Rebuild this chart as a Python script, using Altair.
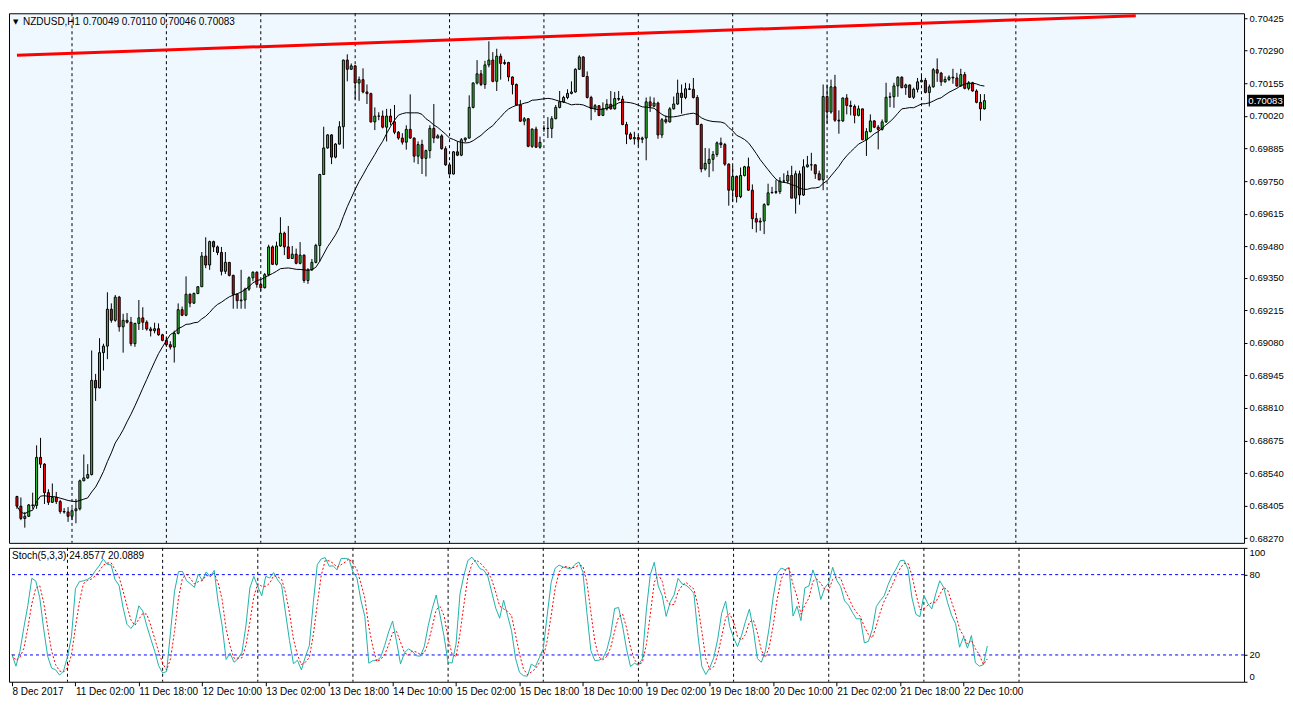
import altair as alt
import pandas as pd
import numpy as np

# ---------------- texts / labels ----------------
symbol_text = "NZDUSD,H1  0.70049 0.70110 0.70046 0.70083"
stoch_text = "Stoch(5,3,3) 24.8577 20.0889"
last_price = 0.70083
last_price_label = "0.70083"

price_ticks = [0.70425, 0.70290, 0.70155, 0.70020, 0.69885, 0.69750, 0.69615,
               0.69480, 0.69350, 0.69215, 0.69080, 0.68945, 0.68810, 0.68675,
               0.68540, 0.68405, 0.68270]
stoch_ticks = [0, 20, 80, 100]
stoch_levels = [20, 80]
time_labels = ["8 Dec 2017", "11 Dec 02:00", "11 Dec 18:00", "12 Dec 10:00",
               "13 Dec 02:00", "13 Dec 18:00", "14 Dec 10:00", "15 Dec 02:00",
               "15 Dec 18:00", "18 Dec 10:00", "19 Dec 02:00", "19 Dec 18:00",
               "20 Dec 10:00", "21 Dec 02:00", "21 Dec 18:00", "22 Dec 10:00"]
time_label_bars = [0, 16, 32, 48, 64, 80, 96, 112, 128, 144, 160, 176, 192, 208, 224, 240]
day_start_bars = [14, 38, 62, 86, 110, 134, 158, 182, 206, 230, 254]

# ---------------- hourly candles (prices in points, 1e-5) ----------------
first_open_pts = 68443
gap_open_pts = {134: 69968}

close_pts = [
    68403, 68352, 68361, 68408, 68406, 68605, 68577, 68459, 68419, 68439,
    68422, 68381, 68379, 68361, 68384, 68392, 68508, 68520, 68534, 68924,
    68893, 69039, 69066, 69219, 69173, 69269, 69146, 69173, 69165, 69076,
    69160, 69183, 69165, 69137, 69130, 69138, 69113, 69090, 69072, 69062,
    69119, 69217, 69194, 69281, 69244, 69284, 69312, 69439, 69402, 69499,
    69477, 69454, 69376, 69413, 69359, 69281, 69254, 69257, 69302, 69349,
    69372, 69322, 69308, 69362, 69477, 69405, 69481, 69534, 69477, 69429,
    69447, 69409, 69443, 69338, 69382, 69413, 69483, 69777, 69887, 69941,
    69849, 69903, 69975, 70251, 70213, 70227, 70156, 70170, 70119, 70112,
    69995, 70019, 70019, 69973, 70019, 69995, 69952, 69928, 69911, 69964,
    69928, 69853, 69901, 69844, 69876, 69968, 69928, 69937, 69884, 69817,
    69779, 69871, 69857, 69921, 69928, 70055, 70156, 70194, 70150, 70231,
    70251, 70163, 70267, 70237, 70241, 70181, 70150, 70065, 69998, 70008,
    69894, 69965, 69890, 69910, 69968, 69968, 70008, 70055, 70078, 70096,
    70113, 70119, 70213, 70264, 70183, 70096, 70051, 70062, 70022, 70049,
    70068, 70049, 70092, 70089, 69984, 69944, 69925, 69930, 69923, 69928,
    70078, 70060, 70073, 69941, 70004, 69995, 70049, 70069, 70114, 70096,
    70132, 70130, 70096, 69984, 69800, 69823, 69840, 69860, 69908, 69901,
    69820, 69712, 69769, 69685, 69773, 69809, 69712, 69594, 69580, 69584,
    69652, 69701, 69703, 69706, 69750, 69750, 69773, 69679, 69780, 69692,
    69809, 69817, 69817, 69780, 69755, 70100, 70036, 70140, 70002, 69999,
    70094, 70063, 70059, 70022, 70049, 69921, 69955, 69999, 69973, 69964,
    69995, 70097, 70099, 70144, 70180, 70137, 70148, 70097, 70130, 70161,
    70167, 70117, 70140, 70211, 70197, 70161, 70171, 70180, 70177, 70144,
    70191, 70134, 70157, 70123, 70076, 70049, 70083]

high_pts = [
    68446, 68439, 68379, 68412, 68459, 68655, 68686, 68581, 68473, 68497,
    68462, 68429, 68395, 68399, 68395, 68433, 68513, 68617, 68577, 69048,
    68951, 69099, 69076, 69289, 69243, 69278, 69274, 69200, 69203, 69187,
    69163, 69257, 69227, 69173, 69146, 69163, 69160, 69117, 69106, 69086,
    69130, 69243, 69230, 69355, 69284, 69288, 69315, 69456, 69517, 69503,
    69503, 69483, 69477, 69456, 69413, 69362, 69284, 69382, 69308, 69355,
    69376, 69376, 69342, 69369, 69486, 69483, 69499, 69600, 69540, 69564,
    69481, 69470, 69497, 69446, 69389, 69427, 69490, 69780, 69975, 69944,
    69944, 69907, 69998, 70253, 70275, 70237, 70231, 70183, 70217, 70150,
    70116, 70055, 70035, 70042, 70049, 70049, 70065, 69957, 69948, 69981,
    70109, 69930, 69914, 69921, 69880, 69981, 70069, 69944, 69944, 69894,
    69827, 69874, 69914, 69928, 69930, 70105, 70159, 70251, 70210, 70248,
    70329, 70284, 70298, 70278, 70253, 70244, 70183, 70154, 70086, 70015,
    70011, 69968, 69975, 69934, 69981, 70015, 70019, 70065, 70123, 70103,
    70130, 70163, 70217, 70271, 70267, 70204, 70103, 70069, 70062, 70076,
    70089, 70123, 70119, 70123, 70103, 69995, 69952, 69954, 69941, 69934,
    70096, 70100, 70096, 70079, 70011, 70022, 70056, 70100, 70170, 70150,
    70157, 70154, 70177, 70106, 69988, 69887, 69885, 69874, 69914, 69930,
    69908, 69823, 69813, 69773, 69806, 69813, 69847, 69736, 69618, 69598,
    69658, 69739, 69726, 69755, 69766, 69782, 69793, 69813, 69793, 69793,
    69840, 69854, 69867, 69820, 69793, 70150, 70150, 70170, 70190, 70043,
    70096, 70110, 70083, 70067, 70063, 70049, 69969, 70026, 70002, 69982,
    70005, 70157, 70117, 70157, 70184, 70184, 70153, 70150, 70137, 70177,
    70193, 70177, 70150, 70218, 70258, 70202, 70184, 70188, 70215, 70198,
    70215, 70202, 70164, 70161, 70130, 70110, 70110]

low_pts = [
    68392, 68345, 68314, 68358, 68392, 68392, 68561, 68412, 68408, 68416,
    68412, 68372, 68372, 68338, 68345, 68332, 68385, 68507, 68516, 68530,
    68839, 68891, 68965, 69012, 69163, 69167, 69126, 69039, 69160, 69066,
    69063, 69133, 69133, 69130, 69106, 69119, 69109, 69086, 69063, 69052,
    68998, 69115, 69190, 69190, 69227, 69241, 69281, 69311, 69389, 69382,
    69456, 69443, 69359, 69365, 69355, 69221, 69221, 69221, 69221, 69295,
    69335, 69308, 69295, 69305, 69355, 69402, 69400, 69477, 69443, 69427,
    69427, 69405, 69405, 69328, 69324, 69378, 69409, 69416, 69777, 69884,
    69820, 69844, 69901, 69884, 70163, 70210, 70089, 70082, 70113, 70069,
    69992, 69961, 70002, 69968, 69914, 69981, 69944, 69921, 69901, 69880,
    69925, 69827, 69820, 69779, 69769, 69844, 69907, 69928, 69880, 69813,
    69777, 69777, 69853, 69853, 69911, 69925, 70051, 70150, 70143, 70132,
    70221, 70159, 70123, 70170, 70231, 70163, 70109, 70062, 69995, 69981,
    69890, 69887, 69887, 69884, 69954, 69928, 69928, 70006, 70051, 70073,
    70089, 70109, 70116, 70210, 70181, 70092, 70002, 70035, 70019, 70019,
    70042, 70046, 70046, 70082, 69981, 69903, 69921, 69901, 69894, 69907,
    69836, 70036, 70056, 69925, 69928, 69988, 69992, 70046, 70065, 70029,
    70089, 70127, 70092, 69982, 69786, 69793, 69766, 69790, 69850, 69887,
    69813, 69648, 69665, 69661, 69679, 69769, 69710, 69551, 69537, 69544,
    69530, 69648, 69699, 69696, 69696, 69742, 69739, 69679, 69615, 69652,
    69688, 69806, 69793, 69759, 69753, 69712, 69989, 70029, 69995, 69946,
    69995, 70026, 70022, 69989, 70018, 69919, 69854, 69951, 69969, 69881,
    69959, 69991, 70056, 70053, 70099, 70134, 70107, 70094, 70090, 70117,
    70161, 70113, 70059, 70137, 70161, 70144, 70157, 70164, 70153, 70140,
    70140, 70130, 70126, 70120, 70072, 70000, 70046]

# red trend line (drawn object): bar index and price at its two ends
trend_bars = [0, 284.5]
trend_prices = [0.70271, 0.70435]

ma_period = 21
stoch_k, stoch_slow, stoch_d = 5, 3, 3

# ---------------- build tables ----------------
n = len(close_pts)
c = np.array(close_pts) / 1e5
h = np.array(high_pts) / 1e5
l = np.array(low_pts) / 1e5
o = np.concatenate([[first_open_pts / 1e5], c[:-1]])
for k_, v_ in gap_open_pts.items():
    o[k_] = v_ / 1e5
h = np.maximum.reduce([h, o, c])
l = np.minimum.reduce([l, o, c])

df = pd.DataFrame({"i": np.arange(n), "o": o, "h": h, "l": l, "c": c})
df["dir"] = np.where(df.c >= df.o, "up", "down")
df["ma"] = df.c.rolling(ma_period, min_periods=1).mean()
ll = df.l.rolling(stoch_k, min_periods=1).min()
hh = df.h.rolling(stoch_k, min_periods=1).max()
kk = 100 * (df.c - ll).rolling(stoch_slow, min_periods=1).sum() / \
    (hh - ll).rolling(stoch_slow, min_periods=1).sum()
df["k"] = kk
df["d"] = kk.rolling(stoch_d, min_periods=1).mean()

trend_df = pd.DataFrame({"i": trend_bars, "p": trend_prices})
days_df = pd.DataFrame({"g": day_start_bars})
levels_df = pd.DataFrame({"lv": stoch_levels})

# ---------------- chart ----------------
FONT = "Liberation Sans"
W, H1, H2 = 1236, 530, 134

xsc = alt.Scale(domain=[-0.75, 310.75], nice=False, zero=False)
ysc = alt.Scale(domain=[0.68251, 0.70445], nice=False, zero=False)
ssc = alt.Scale(domain=[0, 100], nice=False, zero=False)

yaxis = alt.Axis(orient="right", values=price_ticks, format=".5f", title=None,
                 domain=False, grid=False, tickSize=3, tickColor="black",
                 labelColor="black", labelFont=FONT, labelFontSize=9.5,
                 labelPadding=2, labelOverlap=False)
label_expr = "[" + ",".join("'%s'" % t for t in time_labels) + "][round(datum.value/16)]"
xaxis = alt.Axis(orient="bottom", values=time_label_bars, labelExpr=label_expr,
                 title=None, domain=False, grid=False, tickSize=4,
                 tickColor="black", labelAlign="left", labelColor="black",
                 labelFont=FONT, labelFontSize=10, labelPadding=1,
                 labelOverlap=False, labelFlush=False, labelBound=False)
saxis = alt.Axis(orient="right", values=stoch_ticks, title=None, domain=False,
                 grid=False, tickSize=3, tickColor="black", labelColor="black",
                 labelFont=FONT, labelFontSize=9.5, labelPadding=2,
                 labelFlush=True, labelOverlap=False)

Xm = alt.X("i:Q", scale=xsc, axis=None)

grid_m = alt.Chart(days_df).mark_rule(color="black", strokeDash=[3, 3], strokeWidth=1).encode(
    x=alt.X("g:Q", scale=xsc, axis=None))
wicks = alt.Chart(df).mark_rule(color="black", strokeWidth=1).encode(
    x=Xm, y=alt.Y("l:Q", scale=ysc, axis=yaxis), y2="h:Q")
bodies = alt.Chart(df).mark_bar(size=2, stroke="black", strokeWidth=1).encode(
    x=Xm, y=alt.Y("o:Q", scale=ysc, axis=yaxis), y2="c:Q",
    color=alt.Color("dir:N", scale=alt.Scale(domain=["up", "down"],
                                             range=["#32CD32", "#FF0000"]), legend=None))
ma_line = alt.Chart(df).mark_line(color="black", strokeWidth=1).encode(
    x=Xm, y=alt.Y("ma:Q", scale=ysc, axis=yaxis))
trend = alt.Chart(trend_df).mark_line(color="#FF0000", strokeWidth=3).encode(
    x=Xm, y=alt.Y("p:Q", scale=ysc, axis=yaxis))

box_df = pd.DataFrame({"p": [last_price], "t": [last_price_label]})
price_box = alt.Chart(box_df).transform_calculate(
    p1="datum.p + 0.000245", p2="datum.p - 0.000245").mark_rect(color="black").encode(
    x=alt.value(W + 3), x2=alt.value(W + 40),
    y=alt.Y("p1:Q", scale=ysc, axis=yaxis), y2="p2:Q")
price_txt = alt.Chart(box_df).mark_text(color="white", font=FONT, fontSize=9.5,
                                        align="center", baseline="middle").encode(
    x=alt.value(W + 21.5), y=alt.Y("p:Q", scale=ysc, axis=yaxis), text="t:N")

hdr_df = pd.DataFrame({"t": [symbol_text]})
hdr_tri = alt.Chart(pd.DataFrame({"t": ["\u25BC"]})).mark_text(
    align="left", baseline="middle", font="DejaVu Sans", fontSize=7, color="black").encode(
    x=alt.value(4), y=alt.value(9), text="t:N")
hdr = alt.Chart(hdr_df).mark_text(align="left", baseline="middle", font=FONT,
                                  fontSize=10, color="black").encode(
    x=alt.value(14), y=alt.value(9), text="t:N")

main = alt.layer(grid_m, wicks, bodies, ma_line, trend, price_box, price_txt,
                 hdr_tri, hdr).properties(
    width=W, height=H1,
    view=alt.ViewBackground(fill="#F0F8FF", stroke="black", strokeWidth=1))

Xs = alt.X("i:Q", scale=xsc, axis=xaxis)
grid_s = alt.Chart(days_df).mark_rule(color="black", strokeDash=[3, 3], strokeWidth=1).encode(
    x=alt.X("g:Q", scale=xsc, axis=xaxis))
lv = alt.Chart(levels_df).mark_rule(color="#0000FF", strokeDash=[3, 3], strokeWidth=1).encode(
    y=alt.Y("lv:Q", scale=ssc, axis=saxis))
k_line = alt.Chart(df).mark_line(color="#20B2AA", strokeWidth=1).encode(
    x=Xs, y=alt.Y("k:Q", scale=ssc, axis=saxis))
d_line = alt.Chart(df).mark_line(color="#FF0000", strokeWidth=1, strokeDash=[2, 2]).encode(
    x=Xs, y=alt.Y("d:Q", scale=ssc, axis=saxis))
st_txt = alt.Chart(pd.DataFrame({"t": [stoch_text]})).mark_text(
    align="left", baseline="middle", font=FONT, fontSize=10, color="black").encode(
    x=alt.value(3), y=alt.value(8), text="t:N")

stoch = alt.layer(grid_s, lv, k_line, d_line, st_txt).properties(
    width=W, height=H2,
    view=alt.ViewBackground(fill="white", stroke="black", strokeWidth=1))

chart = alt.vconcat(main, stoch, spacing=3).properties(
    padding=0, background="white").configure_view(strokeWidth=1)

chart.save("out.html", embed_options={"renderer": "svg", "actions": False})
